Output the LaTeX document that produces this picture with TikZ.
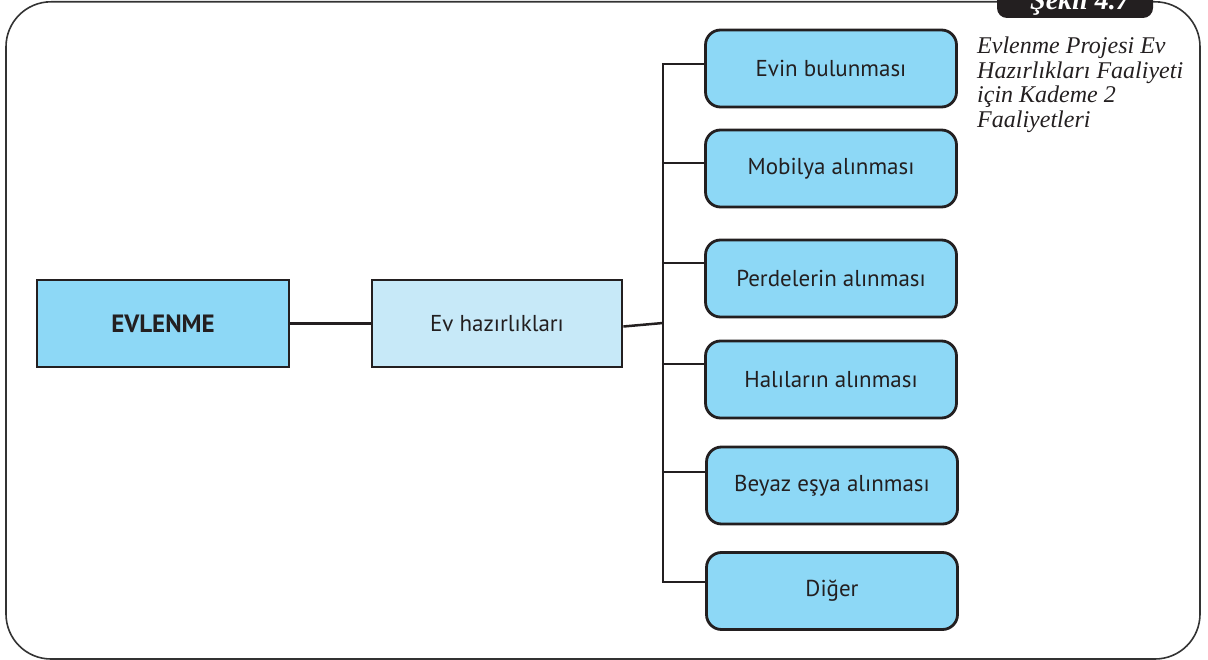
\documentclass[tikz,border=0pt]{standalone}
\usepackage{fontspec}
\setmainfont{Liberation Serif}
\newfontfamily\boxfont{PT Sans}
\definecolor{ink}{HTML}{231F20}
\definecolor{boxblue}{HTML}{8DD8F6}
\definecolor{paleblue}{HTML}{C7E9F8}
\definecolor{framegray}{HTML}{333333}
\tikzset{
  mainbox/.style={draw=ink, line width=2.8pt, fill=boxblue, minimum width=252pt,
    minimum height=87pt, inner sep=0pt, font=\boxfont\fontsize{25}{28}\selectfont\bfseries, text=ink},
  subbox/.style={draw=ink, line width=2.8pt, fill=paleblue, minimum width=250pt,
    minimum height=87pt, inner sep=0pt, font=\boxfont\fontsize{23}{26}\selectfont, text=ink},
  leafbox/.style={draw=ink, line width=2.8pt, fill=boxblue, rounded corners=15pt,
    minimum width=251pt, minimum height=77pt, inner sep=0pt,
    font=\boxfont\fontsize{23}{26}\selectfont, text=ink},
  link/.style={draw=ink, line width=2.5pt},
  caption/.style={anchor=base west, inner sep=0pt, align=left, text=ink,
    font=\fontsize{24}{24.5}\selectfont\itshape}
}
\begin{document}
\begin{tikzpicture}[x=1pt, y=-1pt]
  \useasboundingbox (0,0) rectangle (1208,660);
  \clip (0,0) rectangle (1208,660);

  % outer frame
  \draw[framegray, line width=1.6pt, rounded corners=45pt] (6,1.8) rectangle (1200,659);

  % figure tab
  \fill[ink, rounded corners=10pt] (997,-30) rectangle (1153,18);
  \node[anchor=base, inner sep=0pt, text=white, font=\fontsize{28}{30}\selectfont\bfseries\itshape]
    (tab) at (1080,10) {Şekil 4.7};

  % caption (anchored at the baseline of its last line)
  \node[caption] (cap) at (977,127.5) {Evlenme Projesi Ev\\Hazırlıkları Faaliyeti\\için Kademe 2\\Faaliyetleri};

  % boxes
  \node[mainbox] (root) at (163,323.5) {EVLENME};
  \node[subbox] (ev) at (497,323.5) {Ev hazırlıkları};

  \node[leafbox] (c1) at (831,68.5) {Evin bulunması};
  \node[leafbox] (c2) at (831,168.5) {Mobilya alınması};
  \node[leafbox] (c3) at (831,278.5) {Perdelerin alınması};
  \node[leafbox] (c4) at (831,379.5) {Halıların alınması};
  \node[leafbox] (c5) at (832,485.5) {Beyaz eşya alınması};
  \node[leafbox] (c6) at (832,591) {Diğer};

  % branch points on the trunk
  \coordinate (j) at (663,323);
  \coordinate (b1) at (663,64);
  \coordinate (b2) at (663,163);
  \coordinate (b3) at (663,263);
  \coordinate (b4) at (663,364);
  \coordinate (b5) at (663,472);
  \coordinate (b6) at (663,582);

  % connectors
  \draw[link] (root.east) -- (ev.west);
  \draw[link] ([yshift=-3pt]ev.east) -- (j);
  \draw[link] (b1) -- (b6);
  \foreach \i in {1,...,6} {
    \draw[link] ([xshift=-1.2pt]b\i) -- (b\i -| c\i.west);
  }
\end{tikzpicture}
\end{document}
